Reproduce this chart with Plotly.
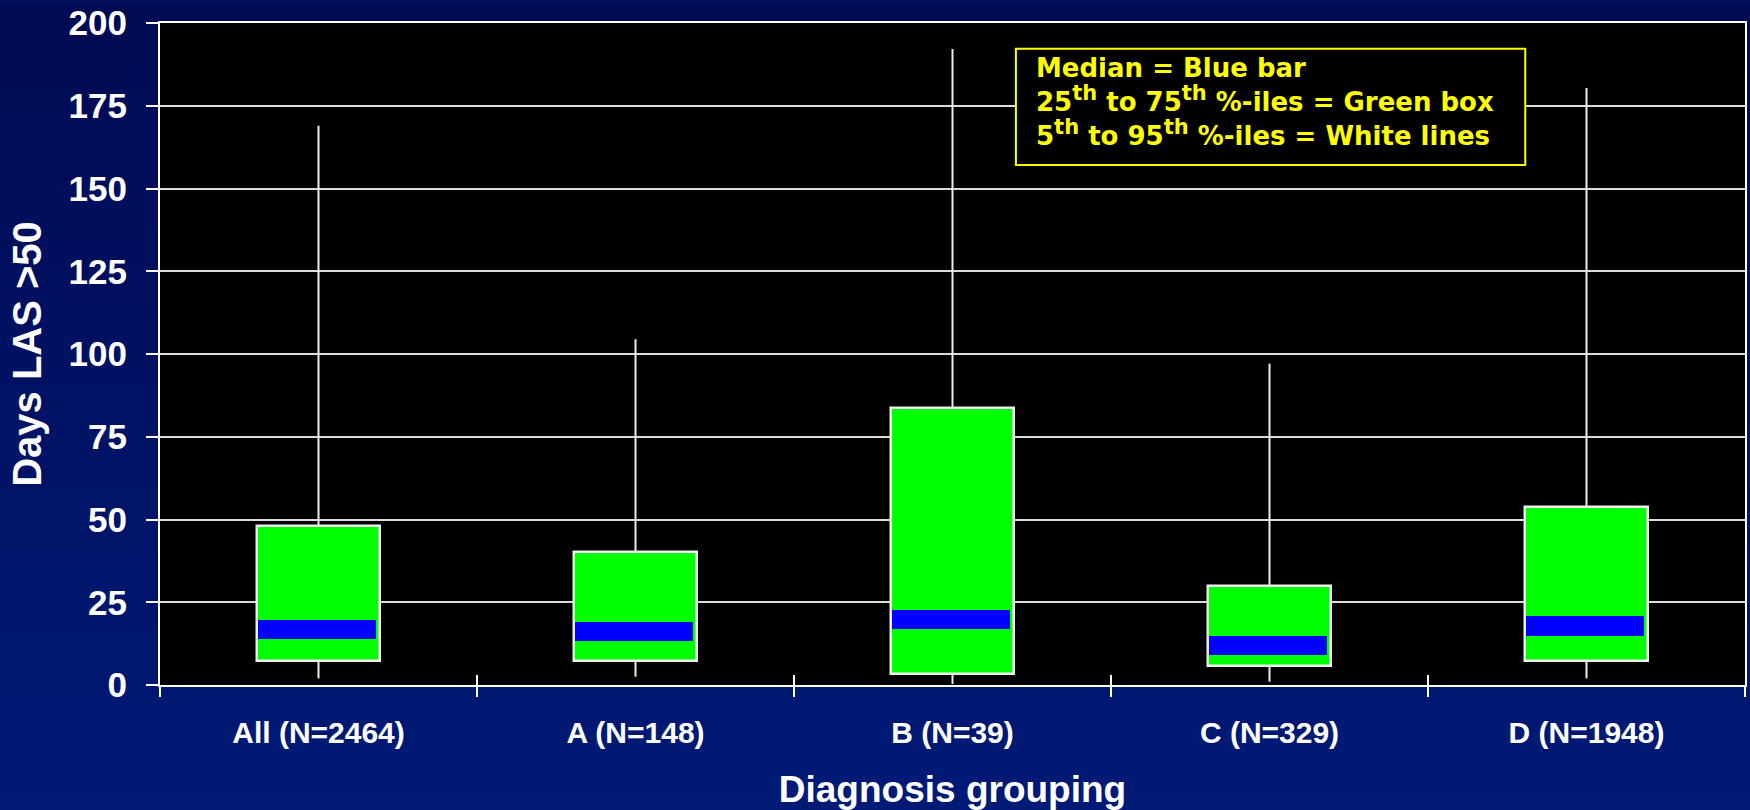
import plotly.graph_objects as go

# ---- data ----
categories = ["All (N=2464)", "A (N=148)", "B (N=39)", "C (N=329)", "D (N=1948)"]
p5 = [2.0, 2.5, 0.3, 1.0, 2.0]          # 5th percentile (bottom of white line)
q1 = [7.3, 7.4, 3.4, 5.7, 7.4]          # 25th percentile (bottom of green box)
median_lo = [13.9, 13.4, 16.9, 9.0, 14.9]  # lower edge of blue median bar
median_hi = [19.7, 19.1, 22.7, 14.8, 20.7]  # upper edge of blue median bar
q3 = [48.0, 40.3, 83.8, 30.0, 53.8]     # 75th percentile (top of green box)
p95 = [169.0, 104.5, 192.2, 97.1, 180.4]  # 95th percentile (top of white line)
y_ticks = [0, 25, 50, 75, 100, 125, 150, 175, 200]

W, H = 1750, 810
M_L, M_R, M_T, M_B = 160, 3, 18, 125
PLOT_W = W - M_L - M_R
PLOT_H = H - M_T - M_B


def px_x(x):
    return (x - M_L) / PLOT_W


def px_y(y):
    return (H - M_B - y) / PLOT_H


fig = go.Figure()

# whiskers (lower and upper segments)
wx, wy = [], []
for c, a, b, d, e in zip(categories, p5, q1, q3, p95):
    wx += [c, c, None, c, c, None]
    wy += [a, b, None, d, e, None]
fig.add_trace(go.Scatter(x=wx, y=wy, mode="lines",
                         line=dict(color="#ececec", width=2),
                         hoverinfo="skip", showlegend=False))

# green interquartile boxes
fig.add_trace(go.Bar(x=categories, y=[b - a for a, b in zip(q1, q3)], base=q1,
                     width=0.39,
                     marker=dict(color="#00ff00", line=dict(color="#f2f2f2", width=2.5)),
                     showlegend=False))
# blue median bars
fig.add_trace(go.Bar(x=categories, y=[b - a for a, b in zip(median_lo, median_hi)],
                     base=median_lo, width=0.372, offset=-0.19,
                     marker=dict(color="#0000ff", line=dict(width=0)),
                     showlegend=False))

# invisible trace on the overlay axis (gives the inside half of the boundary ticks)
fig.add_trace(go.Scatter(x=categories, y=p5, xaxis="x2", mode="markers",
                         marker=dict(opacity=0), hoverinfo="skip", showlegend=False))

# background gradient
shapes = []
N = 40
top = (0, 10, 82)
bot = (0, 26, 118)
for i in range(N):
    Y0 = i * H / N
    Y1 = (i + 1) * H / N + 1
    t = (i + 0.5) / N
    col = "rgb(%d,%d,%d)" % tuple(round(top[k] + (bot[k] - top[k]) * t) for k in range(3))
    shapes.append(dict(type="rect", xref="paper", yref="paper", layer="below",
                       x0=-0.2, x1=1.2, y0=px_y(Y1), y1=px_y(Y0),
                       fillcolor=col, line=dict(width=0)))
shapes.append(dict(type="rect", xref="paper", yref="paper", layer="below",
                   x0=0, x1=1, y0=0, y1=1, fillcolor="black", line=dict(width=0)))
# legend box
shapes.append(dict(type="rect", xref="paper", yref="paper", layer="above",
                   x0=px_x(1017), x1=px_x(1527), y0=px_y(161), y1=px_y(44),
                   fillcolor="black", line=dict(color="#ffff00", width=2)))

FONT = "Arial, Liberation Sans, sans-serif"
SUP = '<sup><span style="font-size:21px">th</span></sup>'

fig.update_layout(
    width=W, height=H,
    margin=dict(l=M_L, r=M_R, t=M_T, b=M_B, pad=0),
    paper_bgcolor="rgb(0,14,90)",
    plot_bgcolor="black",
    barmode="overlay",
    bargap=0,
    shapes=shapes,
    showlegend=False,
    xaxis=dict(
        type="category", categoryorder="array", categoryarray=categories,
        range=[-0.5, 4.5],
        tickson="boundaries", ticks="outside", ticklen=10, tickwidth=2, tickcolor="white",
        showgrid=False, zeroline=False,
        showline=True, linecolor="white", linewidth=2, mirror=True,
        tickfont=dict(family=FONT, size=30, color="white", weight="bold"),
        ticklabelstandoff=20,
        title=dict(text="Diagnosis grouping", standoff=32,
                   font=dict(family=FONT, size=37, color="white", weight="bold")),
    ),
    xaxis2=dict(
        type="category", categoryorder="array", categoryarray=categories,
        range=[-0.5, 4.5], overlaying="x", anchor="y", side="bottom",
        tickson="boundaries", ticks="inside", ticklen=10, tickwidth=2, tickcolor="white",
        showgrid=False, zeroline=False, showline=False, showticklabels=False,
    ),
    yaxis=dict(
        range=[0, 200.02], tickvals=y_ticks,
        ticks="outside", ticklen=12, tickwidth=2, tickcolor="white",
        showgrid=True, gridcolor="#dcdcdc", gridwidth=2, zeroline=False,
        showline=True, linecolor="white", linewidth=2, mirror=True,
        tickfont=dict(family=FONT, size=35, color="white", weight="bold"),
        ticklabelstandoff=12, ticklabeloverflow="allow",
        title=dict(text="Days LAS >50", standoff=15,
                   font=dict(family=FONT, size=40, color="white", weight="bold")),
    ),
    annotations=[dict(
        xref="paper", yref="paper",
        x=px_x(1037), y=px_y(98),
        xanchor="left", yanchor="middle", showarrow=False, align="left",
        text=("Median = Blue bar<br>"
              "25" + SUP + " to 75" + SUP + " %-iles = Green box<br>"
              "5" + SUP + " to 95" + SUP + " %-iles = White lines"),
        font=dict(family="DejaVu Sans", size=26, color="#ffff00", weight="bold"),
        borderpad=0, borderwidth=0,
    )],
)

fig.write_html("out.html",
               config={"displayModeBar": False},
               post_script="document.body.style.margin='0';document.body.style.background='rgb(0,14,90)';")
